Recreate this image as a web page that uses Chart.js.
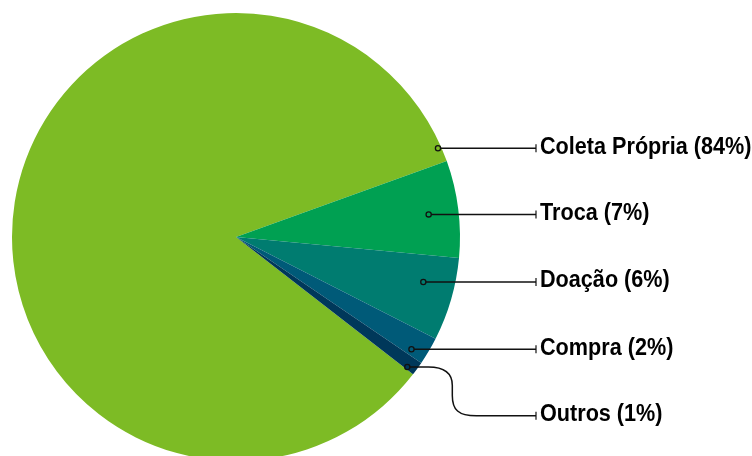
<!DOCTYPE html>
<html>
<head>
<meta charset="utf-8">
<script src="https://cdn.jsdelivr.net/npm/chart.js@4/dist/chart.umd.min.js"></script>
<style>
  html, body { margin: 0; padding: 0; background: #fff; overflow: hidden; }
  #wrap { width: 752px; height: 456px; overflow: hidden; }
</style>
</head>
<body>
<div id="wrap"><canvas id="chart" width="752" height="470"></canvas></div>
<script>
const labels = ['Coleta Própria', 'Troca', 'Doação', 'Compra', 'Outros'];
const values = [84, 7, 6, 2, 1];
const colors = ['#7dbb25', '#00a052', '#007c70', '#005a78', '#00385a'];
// where the marker dot sits inside each slice (fraction along the arc, fraction of radius)
const markerAlong = [0.987, 0.52, 0.375, 0.78, 0.83];
const markerRadius = [0.985, 0.866, 0.86, 0.93, 0.96];

const labelPlugin = {
    id: 'leaderLabels',
    afterDatasetsDraw(chart) {
        const ctx = chart.ctx;
        const arcs = chart.getDatasetMeta(0).data;
        const lineEnd = 536;
        let prevY = -Infinity;
        ctx.save();
        arcs.forEach((arc, i) => {
            const a = arc.startAngle + (arc.endAngle - arc.startAngle) * markerAlong[i];
            const r = arc.outerRadius * markerRadius[i];
            const mx = arc.x + Math.cos(a) * r;
            const my = arc.y + Math.sin(a) * r;
            let ly = my;
            if (ly - prevY < 60) ly = prevY + 66.5;
            prevY = ly;

            ctx.strokeStyle = '#111';
            ctx.lineWidth = 1.5;
            ctx.beginPath();
            ctx.moveTo(mx, my);
            if (ly === my) {
                ctx.lineTo(lineEnd, ly);
            } else {
                const bx = mx + 45;
                const mid = (my + ly) / 2;
                ctx.lineTo(bx - 24, my);
                ctx.bezierCurveTo(bx - 6, my, bx, my + 8, bx, mid - 6);
                ctx.lineTo(bx, mid + 4);
                ctx.bezierCurveTo(bx, ly - 6, bx + 6, ly, bx + 24, ly);
                ctx.lineTo(lineEnd, ly);
            }
            ctx.stroke();
            // end tick
            ctx.beginPath();
            ctx.moveTo(lineEnd, ly - 4);
            ctx.lineTo(lineEnd, ly + 4);
            ctx.lineWidth = 1.2;
            ctx.stroke();
            // marker dot
            ctx.beginPath();
            ctx.arc(mx, my, 2.6, 0, Math.PI * 2);
            ctx.fillStyle = colors[i];
            ctx.fill();
            ctx.lineWidth = 1.3;
            ctx.stroke();
            // text
            ctx.save();
            ctx.translate(lineEnd + 4, ly + 5.5);
            ctx.scale(0.92, 1);
            ctx.font = 'bold 23.5px "Liberation Sans", Arial, sans-serif';
            ctx.fillStyle = '#000';
            ctx.textBaseline = 'alphabetic';
            ctx.fillText(labels[i] + ' (' + values[i] + '%)', 0, 0);
            ctx.restore();
        });
        ctx.restore();
    }
};

new Chart(document.getElementById('chart'), {
    type: 'pie',
    data: {
        labels: labels,
        datasets: [{
            data: values,
            backgroundColor: colors,
            borderWidth: 0
        }]
    },
    options: {
        responsive: false,
        animation: false,
        rotation: 127.8,
        layout: { padding: { left: 12, top: 13, right: 292, bottom: 9 } },
        plugins: {
            legend: { display: false },
            tooltip: { enabled: false }
        }
    },
    plugins: [labelPlugin]
});
</script>
</body>
</html>
